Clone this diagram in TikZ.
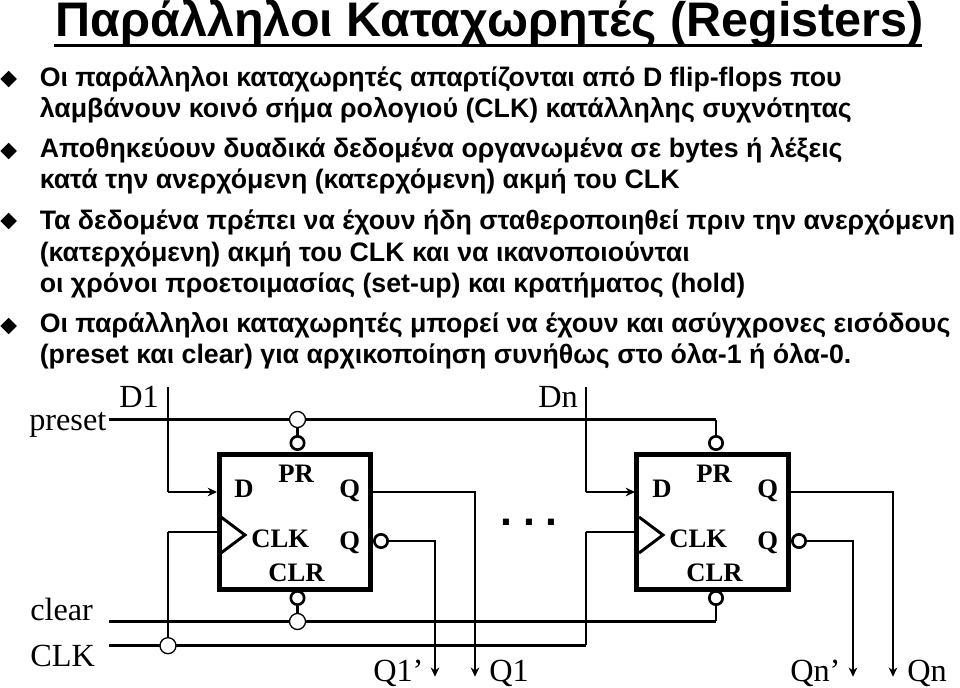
\documentclass[tikz,border=0pt]{standalone}
\usepackage{fontspec}
\setmainfont{Liberation Sans}
\newfontfamily\serifgr{Liberation Serif}
\usetikzlibrary{shapes.geometric,arrows.meta}
\tikzset{
  x=0.75pt,y=-0.75pt,
  title/.style={anchor=base west,inner sep=0pt,font=\bfseries\fontsize{36.4pt}{40pt}\selectfont},
  body/.style={anchor=base west,inner sep=0pt,font=\bfseries\fontsize{20.05pt}{22pt}\selectfont},
  bul/.style={diamond,fill=black,inner sep=0pt,minimum width=12.5pt,minimum height=12.5pt},
  lab/.style={anchor=base west,inner sep=0pt,font=\serifgr\fontsize{24.2pt}{26pt}\selectfont},
  ff/.style={anchor=base west,inner sep=0pt,font=\serifgr\bfseries\fontsize{20pt}{22pt}\selectfont},
  block/.style={draw,line width=3.75pt,fill=white,rectangle,inner sep=0pt,outer sep=0pt,minimum width=113.7pt,minimum height=101.2pt,anchor=north west},
  wire/.style={line width=2pt},
  arr/.style={wire,-{Stealth[length=7pt,width=6.5pt]}},
  joint/.style={circle,draw,fill=white,line width=1pt,inner sep=0pt,minimum size=12pt},
  bubble/.style={circle,draw,fill=white,line width=2pt,inner sep=0pt,minimum size=10pt},
  pt/.style={inner sep=0pt,minimum size=0pt},
}
\begin{document}
\begin{tikzpicture}
\useasboundingbox (0,0) rectangle (960,688);
\node[title] (t) at (55,37) {Παράλληλοι Καταχωρητές (Registers)};
\node[pt] (uL) at (54,45.3) {};
\node[pt] (uR) at (922,45.3) {};
\draw[line width=2.2pt] (uL) -- (uR);
\node[bul] (b1) at (8.7,79) {};
\node[bul] (b2) at (8.7,151) {};
\node[bul] (b3) at (8.7,221) {};
\node[bul] (b4) at (8.7,326) {};
\node[body] (l1) at (39.5,87) {Οι παράλληλοι καταχωρητές απαρτίζονται από D flip-flops που};
\node[body] (l2) at (39.5,118) {λαμβάνουν κοινό σήμα ρολογιού (CLK) κατάλληλης συχνότητας};
\node[body] (l3) at (39.5,157.5) {Αποθηκεύουν δυαδικά δεδομένα οργανωμένα σε bytes ή λέξεις};
\node[body] (l4) at (39.5,188.5) {κατά την ανερχόμενη (κατερχόμενη) ακμή του CLK};
\node[body] (l5) at (39.5,229) {Τα δεδομένα πρέπει να έχουν ήδη σταθεροποιηθεί πριν την ανερχόμενη};
\node[body] (l6) at (39.5,261) {(κατερχόμενη) ακμή του CLK και να ικανοποιούνται};
\node[body] (l7) at (39.5,292) {οι χρόνοι προετοιμασίας (set-up) και κρατήματος (hold)};
\node[body] (l8) at (39.5,332) {Οι παράλληλοι καταχωρητές μπορεί να έχουν και ασύγχρονες εισόδους};
\node[body] (l9) at (39.5,363) {(preset και clear) για αρχικοποίηση συνήθως στο όλα-1 ή όλα-0.};
% labels
\node[lab] (preset) at (29,430) {preset};
\node[lab] (d1) at (119,407) {D1};
\node[lab] (dn) at (538,407) {Dn};
\node[lab] (clear) at (30,620) {clear};
\node[lab] (clk) at (30,666) {CLK};
\node[lab] (q1b) at (373,681) {Q1’};
\node[lab] (q1) at (489,681) {Q1};
\node[lab] (qnb) at (790,681) {Qn’};
\node[lab] (qn) at (907,681) {Qn};
\node[anchor=base,inner sep=0pt,font=\bfseries\fontsize{32pt}{34pt}\selectfont] (dots) at (529,525) {.\kern8pt.\kern8pt.};
% coordinates
\node[pt] (pL) at (109,419.5) {};
\node[pt] (cL) at (109,621.5) {};
\node[pt] (kL) at (109,645.7) {};
\node[pt] (d1T) at (168,387) {};
\node[pt] (dnT) at (586,387) {};
\node[pt] (d1C) at (168,492) {};
\node[pt] (dnC) at (586,492) {};
\node[pt] (k1C) at (168,532) {};
\node[pt] (k2C) at (586,532) {};
\node[pt] (k2B) at (586,645.7) {};
\node[pt] (p2C) at (716,419.5) {};
\node[pt] (c2C) at (716,621.5) {};
% wires under blocks
\draw[wire] (pL) -- (p2C);
\draw[wire] (cL) -- (c2C);
\draw[wire] (kL) -- (k2B) -- (k2C);
\draw[wire] (d1T) -- (d1C);
\draw[wire] (dnT) -- (dnC);
% blocks
\node[block] (f1) at (219,454.3) {};
\node[block] (f2) at (636.8,454.3) {};
% D inputs
\draw[arr] (d1C) -- (217,492) coordinate (f1D);
\draw[arr] (dnC) -- (635,492) coordinate (f2D);
% clock inputs
\node[joint] (j0) at (168,645.7) {};
\draw[wire] (j0) -- (k1C) -- (f1.west |- k1C);
\draw[wire] (k2C) -- (f2.west |- k2C);
% clock triangles
\draw[line width=2.2pt,line join=miter] (221,517) -- (245,535) -- (221,553);
\draw[line width=2.2pt,line join=miter] (639,517) -- (663,535) -- (639,553);
% preset / clear bubbles
\node[bubble] (pb1) at (297.5,443) {};
\node[bubble] (cb1) at (297.5,598) {};
\node[bubble] (pb2) at (716,443) {};
\node[bubble] (cb2) at (716,598) {};
\node[joint] (pj1) at (297.5,419.5) {};
\node[joint] (cj1) at (297.5,621.5) {};
\draw[wire] (pj1) -- (pb1);
\draw[wire] (cj1) -- (cb1);
\draw[wire] (p2C) -- (pb2);
\draw[wire] (c2C) -- (cb2);
% outputs
\node[bubble] (qb1) at (381,541) {};
\node[bubble] (qb2) at (799,541) {};
\node[pt] (q1E) at (475,677) {};
\node[pt] (q1bE) at (435,677) {};
\node[pt] (qnE) at (893,677) {};
\node[pt] (qnbE) at (853,677) {};
\draw[arr] (f1.east |- d1C) -| (q1E);
\draw[arr] (qb1) -| (q1bE);
\draw[arr] (f2.east |- dnC) -| (qnE);
\draw[arr] (qb2) -| (qnbE);
% flip-flop texts
\node[ff] (fd1) at (234,497) {D};
\node[ff] (fp1) at (278,482) {PR};
\node[ff] (fq1) at (339,497) {Q};
\node[ff] (fk1) at (251,547) {CLK};
\node[ff] (fn1) at (339,549) {Q};
\node[ff] (fc1) at (268,581) {CLR};
\node[ff] (fd2) at (652,497) {D};
\node[ff] (fp2) at (696,482) {PR};
\node[ff] (fq2) at (757,497) {Q};
\node[ff] (fk2) at (669,547) {CLK};
\node[ff] (fn2) at (757,549) {Q};
\node[ff] (fc2) at (686,581) {CLR};
\end{tikzpicture}
\end{document}
